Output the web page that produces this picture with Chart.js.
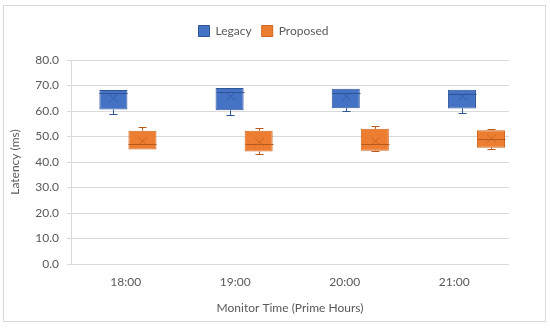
<!DOCTYPE html>
<html>
<head>
<meta charset="utf-8">
<script src="https://cdn.jsdelivr.net/npm/chart.js@4.4.1/dist/chart.umd.min.js"></script>
<style>
  html, body { margin: 0; padding: 0; background: #fff; }
  #wrap { width: 550px; height: 328px; }
</style>
</head>
<body>
<div id="wrap"><canvas id="chart" width="550" height="328"></canvas></div>
<script>
// box plot values (ms)
const times = ["18:00", "19:00", "20:00", "21:00"];

const legacyMin    = [58.8, 58.4, 60.0, 59.1];
const legacyQ1     = [60.6, 60.3, 61.1, 61.0];
const legacyMedian = [66.9, 67.3, 66.9, 66.6];
const legacyQ3     = [68.2, 69.0, 68.7, 68.3];
const legacyMax    = [68.2, 69.0, 69.1, 68.3];
const legacyMean   = [65.0, 65.7, 65.7, 65.7];

const proposedMin    = [45.0, 43.3, 44.4, 45.2];
const proposedQ1     = [44.9, 44.1, 44.4, 45.6];
const proposedMedian = [46.9, 46.9, 46.9, 49.2];
const proposedQ3     = [52.3, 52.3, 53.0, 52.5];
const proposedMax    = [53.8, 53.5, 54.3, 53.0];
const proposedMean   = [48.2, 47.8, 48.2, 49.2];

const yTicks = [0, 10, 20, 30, 40, 50, 60, 70, 80];

const boxes = [
  { min: legacyMin, median: legacyMedian, max: legacyMax, mean: legacyMean, line: "#2F5597" },
  { min: proposedMin, median: proposedMedian, max: proposedMax, mean: proposedMean, line: "#B85A1B" }
];

const textColor = "#595959";
const gridColor = "#d9d9d9";
Chart.defaults.font.family = "Lato, 'Open Sans', sans-serif";
Chart.defaults.font.size = 12;
Chart.defaults.color = textColor;

// outer frame like the Excel chart area
const frame = {
  id: "frame",
  beforeDraw(chart) {
    const ctx = chart.ctx;
    ctx.save();
    ctx.strokeStyle = gridColor;
    ctx.lineWidth = 1;
    ctx.strokeRect(3.5, 5.5, 542, 316);
    ctx.restore();
  }
};

// more room under the legend, and nudge it a bit right
const legendSpacer = {
  id: "legendSpacer",
  beforeInit(chart) {
    const fit = chart.legend.fit;
    chart.legend.fit = function () {
      fit.call(this);
      this.height += 14;
    };
    const draw = chart.legend.draw;
    chart.legend.draw = function () {
      this.ctx.save();
      this.ctx.translate(7, 1);
      draw.call(this);
      this.ctx.restore();
    };
  }
};

// whiskers, median line and mean cross on top of the floating bars
const boxExtras = {
  id: "boxExtras",
  afterDatasetsDraw(chart) {
    const ctx = chart.ctx;
    const y = chart.scales.y;
    boxes.forEach((b, d) => {
      const meta = chart.getDatasetMeta(d);
      meta.data.forEach((bar, i) => {
        const x = Math.round(bar.x) + 0.5;
        const half = bar.width / 2;
        const top = Math.min(bar.y, bar.base);
        const bottom = Math.max(bar.y, bar.base);
        ctx.save();
        ctx.strokeStyle = b.line;
        ctx.lineWidth = 1;
        ctx.beginPath();
        // median
        const ym = Math.round(y.getPixelForValue(b.median[i])) + 0.5;
        ctx.moveTo(x - half, ym);
        ctx.lineTo(x + half, ym);
        // upper whisker
        const yMax = Math.round(y.getPixelForValue(b.max[i])) + 0.5;
        if (yMax < top - 0.5) {
          ctx.moveTo(x, top);
          ctx.lineTo(x, yMax);
          ctx.moveTo(x - 4, yMax);
          ctx.lineTo(x + 4, yMax);
        }
        // lower whisker
        const yMin = Math.round(y.getPixelForValue(b.min[i])) + 0.5;
        if (yMin > bottom + 0.5) {
          ctx.moveTo(x, bottom);
          ctx.lineTo(x, yMin);
          ctx.moveTo(x - 4, yMin);
          ctx.lineTo(x + 4, yMin);
        }
        ctx.stroke();
        // mean marker
        const yMean = y.getPixelForValue(b.mean[i]);
        ctx.globalAlpha = 0.6;
        ctx.beginPath();
        ctx.moveTo(x - 4.5, yMean - 4);
        ctx.lineTo(x + 4.5, yMean + 4);
        ctx.moveTo(x + 4.5, yMean - 4);
        ctx.lineTo(x - 4.5, yMean + 4);
        ctx.stroke();
        ctx.restore();
      });
    });
  }
};

new Chart(document.getElementById("chart"), {
  type: "bar",
  data: {
    labels: times,
    datasets: [
      {
        label: "Legacy",
        xAxisID: "xb",
        data: legacyQ1.map((q, i) => ({ x: i, y: [q, legacyQ3[i]] })),
        backgroundColor: "#4472C4",
        borderColor: "#2F5597",
        borderWidth: 1,
        borderSkipped: false,
        categoryPercentage: 0.5,
        barPercentage: 0.966
      },
      {
        label: "Proposed",
        xAxisID: "xb",
        data: proposedQ1.map((q, i) => ({ x: i, y: [q, proposedQ3[i]] })),
        backgroundColor: "#ED7D31",
        borderColor: "#D0651D",
        borderWidth: 1,
        borderSkipped: false,
        categoryPercentage: 0.5,
        barPercentage: 0.966
      }
    ]
  },
  options: {
    responsive: false,
    animation: false,
    layout: { padding: { left: 4, right: 41, top: 14, bottom: 0 } },
    plugins: {
      legend: {
        position: "top",
        labels: { boxWidth: 11, boxHeight: 11, padding: 10, color: textColor, font: { size: 12 } }
      },
      tooltip: { enabled: false }
    },
    scales: {
      x: {
        type: "category",
        offset: true,
        grid: { display: false, drawTicks: false },
        border: { display: false },
        ticks: { padding: 11, color: textColor },
        title: {
          display: true,
          text: "Monitor Time (Prime Hours)",
          color: textColor,
          font: { size: 12 },
          padding: { top: 4, bottom: 13 }
        },
        afterFit(scale) { scale.height = 64; }
      },
      xb: {
        type: "linear",
        display: false,
        offset: false,
        min: -0.49,
        max: 3.28,
        afterBuildTicks(scale) { scale.ticks = times.map((t, i) => ({ value: i })); }
      },
      y: {
        min: 0,
        max: 80,
        afterBuildTicks(scale) { scale.ticks = yTicks.map(v => ({ value: v })); },
        ticks: { padding: 8, color: textColor, callback: v => v.toFixed(1) },
        grid: { color: gridColor, tickLength: 4 },
        border: { display: true, color: gridColor },
        title: {
          display: true,
          text: "Latency (ms)",
          color: textColor,
          font: { size: 12 },
          padding: { top: 4, bottom: 4 }
        },
        afterFit(scale) { scale.width = 67; }
      }
    }
  },
  plugins: [frame, legendSpacer, boxExtras]
});
</script>
</body>
</html>
